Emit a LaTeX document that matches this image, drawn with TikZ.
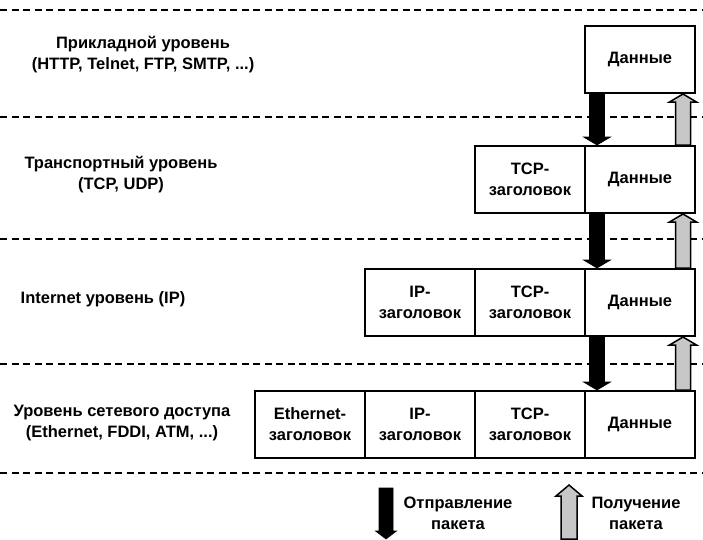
\documentclass[tikz,border=0pt]{standalone}
\usepackage{fontspec}
\setmainfont{Liberation Sans}
\usetikzlibrary{calc}

% vertical block arrow: #1 style, #2 tail point, #3 tip point,
% #4 half shaft width, #5 half head width, #6 head length
\newcommand{\blockarrow}[6]{%
  \path[#1] let \p1=(#2), \p2=(#3), \n1={sign(\y1-\y2)} in
    ({\x1-#4},\y1) -- ({\x1-#4},{\y2+\n1*#6}) -- ({\x1-#5},{\y2+\n1*#6})
    -- (\x2,\y2) -- ({\x1+#5},{\y2+\n1*#6}) -- ({\x1+#4},{\y2+\n1*#6})
    -- ({\x1+#4},\y1) -- cycle;}

\begin{document}
\begin{tikzpicture}[x=1pt,y=-1pt,
  font=\fontsize{16.5}{21}\selectfont\bfseries,
  layerline/.style={line width=1.8pt, dash pattern=on 7pt off 4.5pt},
  cell/.style={draw, line width=2pt, minimum width=110pt, minimum height=67pt,
    align=center, inner sep=0pt, anchor=north west},
  sendarrow/.style={fill=black, draw=black, line width=0.6pt},
  recvarrow/.style={fill=black!22, draw=black, line width=1.5pt},
  lbl/.style={align=center, inner sep=0pt}]
\useasboundingbox (0,0) rectangle (703,539);

% layer boundaries
\foreach \yy in {10,117,239,364,473}
  {\draw[layerline] (0,\yy) -- (703,\yy);}

% layer names
\node[lbl] (nApp)  at (143,55)  {Прикладной уровень\\(HTTP, Telnet, FTP, SMTP, ...)};
\node[lbl] (nTr)   at (121,175) {Транспортный уровень\\(TCP, UDP)};
\node[lbl] (nInt)  at (103,299) {Internet уровень (IP)};
\node[lbl] (nNet)  at (122,423) {Уровень сетевого доступа\\(Ethernet, FDDI, ATM, ...)};

% application layer
\node[cell] (d1) at (584,25) {Данные};
% transport layer
\node[cell] (t2) at (474,145) {TCP-\\заголовок};
\node[cell] (d2) at (584,145) {Данные};
% internet layer
\node[cell] (i3) at (364,268) {IP-\\заголовок};
\node[cell] (t3) at (474,268) {TCP-\\заголовок};
\node[cell] (d3) at (584,268) {Данные};
% network access layer
\node[cell] (e4) at (254,390) {Ethernet-\\заголовок};
\node[cell] (i4) at (364,390) {IP-\\заголовок};
\node[cell] (t4) at (474,390) {TCP-\\заголовок};
\node[cell] (d4) at (584,390) {Данные};

% sending: downwards between layers
\foreach \a/\b in {d1/d2,d2/d3,d3/d4}
  {\blockarrow{sendarrow}{$(\a.south west)+(13,0)$}{$(\b.north west)+(13,0)$}{7.5pt}{13.5pt}{8pt}}
% receiving: upwards between layers
\foreach \a/\b in {d2/d1,d3/d2,d4/d3}
  {\blockarrow{recvarrow}{$(\a.north east)+(-13,0)$}{$(\b.south east)+(-13,0)$}{7.5pt}{13.5pt}{8pt}}

% legend
\coordinate (sendTail) at (386,488);
\coordinate (sendTip)  at (386,539);
\coordinate (recvTail) at (569,539);
\coordinate (recvTip)  at (569,485);
\blockarrow{sendarrow}{sendTail}{sendTip}{7pt}{10.5pt}{8pt}
\blockarrow{recvarrow}{recvTail}{recvTip}{8pt}{13pt}{11pt}
\node[lbl] (lSend) at (458,513) {Отправление\\пакета};
\node[lbl] (lRecv) at (636,513) {Получение\\пакета};
\end{tikzpicture}
\end{document}
